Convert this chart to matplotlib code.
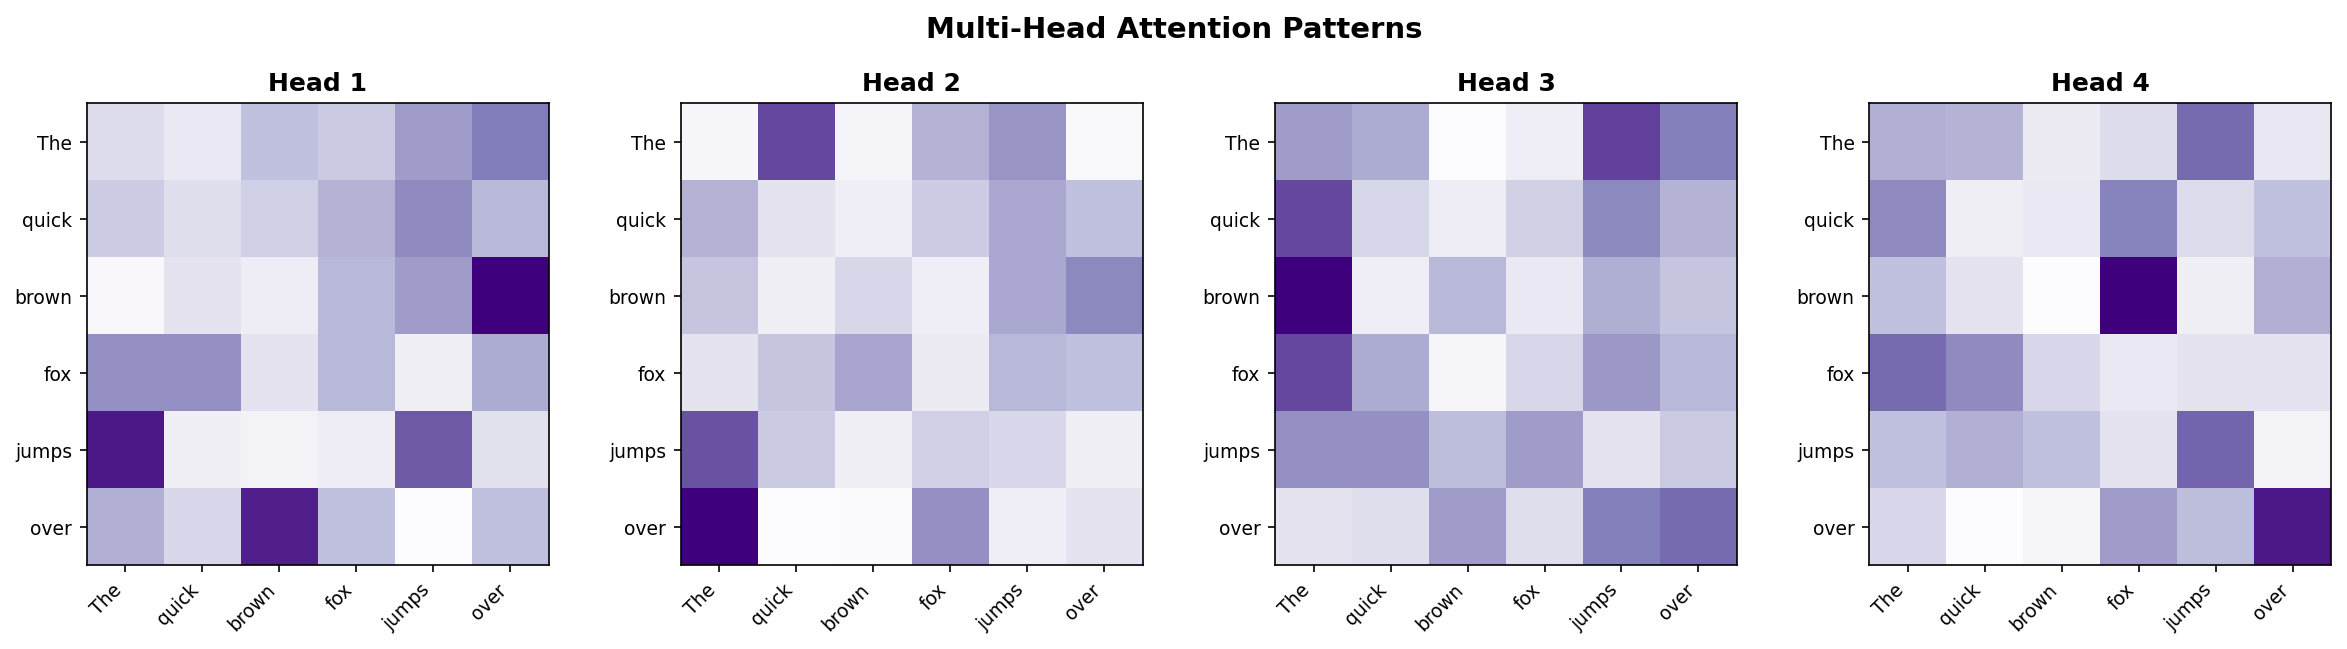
import numpy as np
import matplotlib
matplotlib.use('Agg')
import matplotlib.pyplot as plt

tokens = ['The', 'quick', 'brown', 'fox', 'jumps', 'over']

head1 = [[0.25, 0.17, 0.37, 0.33, 0.50, 0.63],
         [0.32, 0.24, 0.31, 0.42, 0.57, 0.40],
         [0.05, 0.20, 0.15, 0.40, 0.50, 1.00],
         [0.55, 0.55, 0.20, 0.40, 0.12, 0.45],
         [0.92, 0.12, 0.10, 0.15, 0.73, 0.22],
         [0.43, 0.27, 0.90, 0.37, 0.02, 0.37]]

head2 = [[0.06, 0.78, 0.08, 0.42, 0.53, 0.04],
         [0.42, 0.20, 0.14, 0.32, 0.46, 0.37],
         [0.35, 0.12, 0.28, 0.14, 0.46, 0.58],
         [0.20, 0.35, 0.47, 0.16, 0.40, 0.37],
         [0.75, 0.33, 0.12, 0.31, 0.27, 0.12],
         [1.00, 0.02, 0.03, 0.55, 0.14, 0.20]]

head3 = [[0.50, 0.45, 0.02, 0.14, 0.80, 0.62],
         [0.78, 0.28, 0.15, 0.30, 0.58, 0.42],
         [1.00, 0.14, 0.40, 0.17, 0.44, 0.35],
         [0.78, 0.45, 0.07, 0.28, 0.52, 0.40],
         [0.55, 0.55, 0.38, 0.50, 0.20, 0.33],
         [0.20, 0.23, 0.50, 0.24, 0.62, 0.68]]

head4 = [[0.43, 0.42, 0.16, 0.25, 0.68, 0.18],
         [0.57, 0.13, 0.17, 0.60, 0.25, 0.37],
         [0.37, 0.20, 0.02, 1.00, 0.12, 0.43],
         [0.68, 0.57, 0.27, 0.17, 0.20, 0.20],
         [0.37, 0.43, 0.37, 0.20, 0.70, 0.10],
         [0.27, 0.02, 0.07, 0.50, 0.38, 0.92]]

heads = [head1, head2, head3, head4]

fig, axes = plt.subplots(1, 4, figsize=(15.65, 4.33), dpi=150)
for i, ax in enumerate(axes):
    ax.imshow(np.array(heads[i]), cmap='Purples', aspect='equal')
    ax.set_title('Head %d' % (i + 1), fontweight='bold', fontsize=12)
    ax.set_xticks(range(len(tokens)))
    ax.set_yticks(range(len(tokens)))
    ax.set_xticklabels(tokens, rotation=45, ha='right', fontsize=9)
    ax.set_yticklabels(tokens, fontsize=9)

fig.suptitle('Multi-Head Attention Patterns', fontsize=14, fontweight='bold', y=0.975)
plt.subplots_adjust(left=0.037, right=0.993, top=0.841, bottom=0.128, wspace=0.286)
plt.savefig('out.png')
